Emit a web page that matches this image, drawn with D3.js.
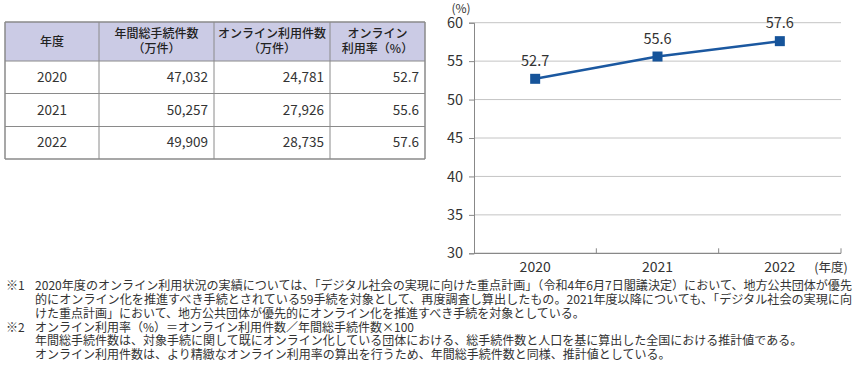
<!DOCTYPE html>
<html>
<head>
<meta charset="utf-8">
<script src="https://cdn.jsdelivr.net/npm/d3@7"></script>
<style>
  body { margin: 0; background: #fff; }
  svg { font-family: "Noto Sans CJK JP", "Noto Sans", sans-serif; }
</style>
</head>
<body>
<svg id="chart" width="854" height="371"></svg>
<script>
// data
var years = ["2020", "2021", "2022"];
var totalCases = ["47,032", "50,257", "49,909"];
var onlineCases = ["24,781", "27,926", "28,735"];
var onlineRate = [52.7, 55.6, 57.6];
var yTicks = [30, 35, 40, 45, 50, 55, 60];
var headers = [["年度"], ["年間総手続件数", "（万件）"], ["オンライン利用件数", "（万件）"], ["オンライン", "利用率（%）"]];
var notes = [
  ["※1", "2020年度のオンライン利用状況の実績については、「デジタル社会の実現に向けた重点計画」（令和4年6月7日閣議決定）において、地方公共団体が優先", true],
  ["", "的にオンライン化を推進すべき手続とされている59手続を対象として、再度調査し算出したもの。2021年度以降についても、「デジタル社会の実現に向", true],
  ["", "けた重点計画」において、地方公共団体が優先的にオンライン化を推進すべき手続を対象としている。", false],
  ["※2", "オンライン利用率（%）＝オンライン利用件数／年間総手続件数×100", false],
  ["", "年間総手続件数は、対象手続に関して既にオンライン化している団体における、総手続件数と人口を基に算出した全国における推計値である。", false],
  ["", "オンライン利用件数は、より精緻なオンライン利用率の算出を行うため、年間総手続件数と同様、推計値としている。", false]
];

var svg = d3.select("#chart");
var textColor = "#333";

// ---- table ----
var colX = d3.scaleOrdinal().domain([0, 1, 2, 3, 4]).range([5, 99, 214, 330, 425]);
var rowY = [22, 61, 93.5, 126.5, 159];
var tbl = svg.append("g");

tbl.append("rect")
  .attr("x", colX(0)).attr("y", rowY[0])
  .attr("width", colX(4) - colX(0)).attr("height", rowY[1] - rowY[0])
  .attr("fill", "#cbcbe5");

// horizontal lines
tbl.selectAll("line.h")
  .data(rowY)
  .enter()
  .append("line")
  .attr("x1", colX(0)).attr("x2", colX(4))
  .attr("y1", function(d) { return d; })
  .attr("y2", function(d) { return d; })
  .attr("stroke", "#8a8a8a")
  .attr("stroke-width", function(d, i) { return (i == 0 || i == rowY.length - 1) ? 1.5 : 1; });

// vertical lines
tbl.selectAll("line.v")
  .data([0, 1, 2, 3, 4])
  .enter()
  .append("line")
  .attr("x1", function(d) { return colX(d); })
  .attr("x2", function(d) { return colX(d); })
  .attr("y1", rowY[0]).attr("y2", rowY[4])
  .attr("stroke", "#8a8a8a")
  .attr("stroke-width", function(d) { return (d == 0 || d == 4) ? 1.5 : 1; });

// header text
headers.forEach(function(lines, c) {
  var cx = (colX(c) + colX(c + 1)) / 2;
  var mid = (rowY[0] + rowY[1]) / 2;
  lines.forEach(function(t, k) {
    tbl.append("text")
      .attr("x", cx)
      .attr("y", mid + (k - (lines.length - 1) / 2) * 14.5)
      .attr("dy", "0.35em")
      .attr("text-anchor", "middle")
      .attr("font-size", 12)
      .attr("font-weight", 500)
      .attr("fill", "#222")
      .text(t);
  });
});

// body rows
years.forEach(function(y, r) {
  var cy = (rowY[r + 1] + rowY[r + 2]) / 2;
  var cells = [y, totalCases[r], onlineCases[r], d3.format(".1f")(onlineRate[r])];
  cells.forEach(function(t, c) {
    tbl.append("text")
      .attr("x", c == 0 ? (colX(0) + colX(1)) / 2 : colX(c + 1) - 6)
      .attr("y", cy)
      .attr("dy", "0.35em")
      .attr("text-anchor", c == 0 ? "middle" : "end")
      .attr("font-size", 13.5)
      .attr("fill", textColor)
      .text(t);
  });
});

// ---- line chart ----
var x = d3.scaleBand().domain(years).range([474, 841]).padding(0);
var y = d3.scaleLinear().domain([30, 60]).range([253.3, 22.7]);
var g = svg.append("g");

// grid lines
g.selectAll("line.grid")
  .data(yTicks.slice(1))
  .enter()
  .append("line")
  .attr("x1", 474).attr("x2", 841)
  .attr("y1", function(d) { return y(d); })
  .attr("y2", function(d) { return y(d); })
  .attr("stroke", "#c4c4c4")
  .attr("stroke-width", 1);

// y axis
var yAxis = g.append("g")
  .attr("transform", "translate(474,0)")
  .call(d3.axisLeft(y).tickValues(yTicks).tickSize(5).tickPadding(6));
yAxis.select(".domain").attr("stroke", "#888");
yAxis.selectAll(".tick line").attr("stroke", "#888");
yAxis.selectAll(".tick text")
  .attr("font-size", 14.5)
  .attr("font-family", "'Noto Sans CJK JP', sans-serif")
  .attr("fill", textColor);

// x axis (ticks at category boundaries)
var xAxisY = y(30);
g.append("line")
  .attr("x1", 474).attr("x2", 841)
  .attr("y1", xAxisY).attr("y2", xAxisY)
  .attr("stroke", "#888").attr("stroke-width", 1.2);
g.selectAll("line.xtick")
  .data(years)
  .enter()
  .append("line")
  .attr("x1", function(d) { return x(d) + x.bandwidth(); })
  .attr("x2", function(d) { return x(d) + x.bandwidth(); })
  .attr("y1", xAxisY - 5).attr("y2", xAxisY)
  .attr("stroke", "#888");
g.selectAll("text.xlab")
  .data(years)
  .enter()
  .append("text")
  .attr("x", function(d) { return x(d) + x.bandwidth() / 2; })
  .attr("y", 267.5)
  .attr("dy", "0.35em")
  .attr("text-anchor", "middle")
  .attr("font-size", 14)
  .attr("fill", textColor)
  .text(function(d) { return d; });

g.append("text")
  .attr("x", 831).attr("y", 267.5).attr("dy", "0.35em")
  .attr("text-anchor", "middle").attr("font-size", 12.5).attr("fill", textColor)
  .text("(年度)");
g.append("text")
  .attr("x", 461).attr("y", 8.5).attr("dy", "0.35em")
  .attr("text-anchor", "middle").attr("font-size", 12).attr("fill", textColor)
  .text("(%)");

// line
var line = d3.line()
  .x(function(d, i) { return x(years[i]) + x.bandwidth() / 2; })
  .y(function(d) { return y(d); });
g.append("path")
  .datum(onlineRate)
  .attr("d", line)
  .attr("fill", "none")
  .attr("stroke", "#1b58a0")
  .attr("stroke-width", 2.5);

g.selectAll("rect.pt")
  .data(onlineRate)
  .enter()
  .append("rect")
  .attr("x", function(d, i) { return x(years[i]) + x.bandwidth() / 2 - 5; })
  .attr("y", function(d) { return y(d) - 5; })
  .attr("width", 10).attr("height", 10)
  .attr("fill", "#16549a");

g.selectAll("text.val")
  .data(onlineRate)
  .enter()
  .append("text")
  .attr("x", function(d, i) { return x(years[i]) + x.bandwidth() / 2; })
  .attr("y", function(d) { return y(d) - 18; })
  .attr("dy", "0.35em")
  .attr("text-anchor", "middle")
  .attr("font-size", 14.5)
  .attr("fill", textColor)
  .text(function(d) { return d3.format(".1f")(d); });

// ---- footnotes ----
var notesG = svg.append("g");
notes.forEach(function(n, i) {
  var ly = 286 + i * 13.8;
  if (n[0]) {
    notesG.append("text")
      .attr("x", 6).attr("y", ly).attr("dy", "0.35em")
      .attr("font-size", 12).attr("fill", textColor)
      .text(n[0]);
  }
  var t = notesG.append("text")
    .attr("x", 35).attr("y", ly).attr("dy", "0.35em")
    .attr("font-size", 12).attr("fill", textColor)
    .text(n[1]);
  if (n[2]) {
    t.attr("textLength", 817).attr("lengthAdjust", "spacingAndGlyphs");
  }
});
</script>
</body>
</html>
